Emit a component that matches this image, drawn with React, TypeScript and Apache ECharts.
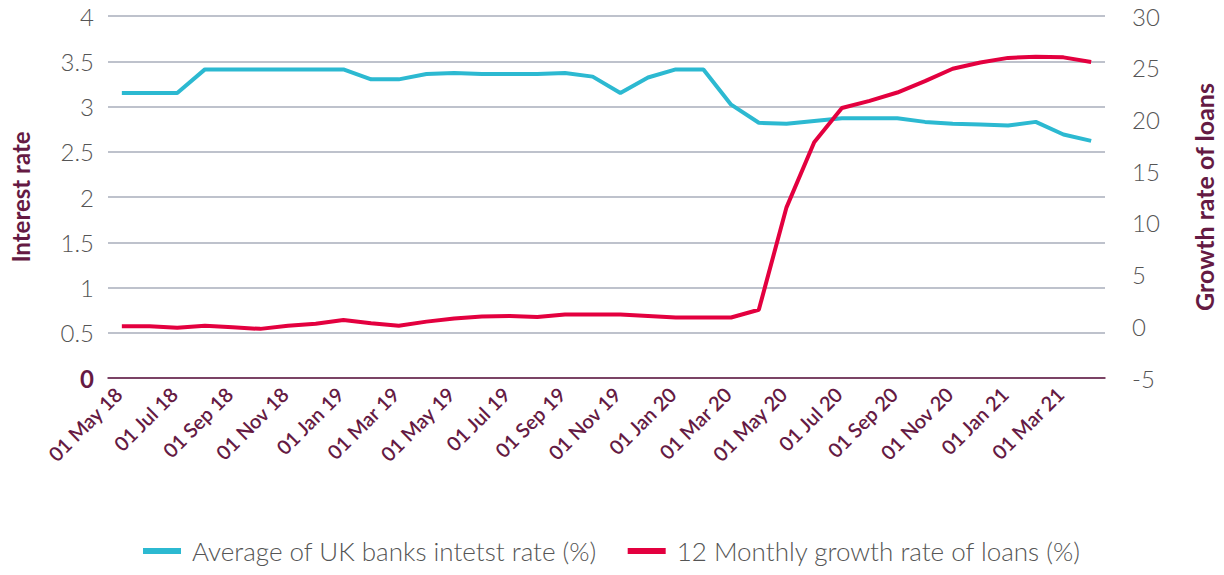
import React, { useEffect, useRef } from "react";
import * as echarts from "echarts";

const categories: string[] = [
  "01 May 18", "01 Jun 18", "01 Jul 18", "01 Aug 18", "01 Sep 18", "01 Oct 18",
  "01 Nov 18", "01 Dec 18", "01 Jan 19", "01 Feb 19", "01 Mar 19", "01 Apr 19",
  "01 May 19", "01 Jun 19", "01 Jul 19", "01 Aug 19", "01 Sep 19", "01 Oct 19",
  "01 Nov 19", "01 Dec 19", "01 Jan 20", "01 Feb 20", "01 Mar 20", "01 Apr 20",
  "01 May 20", "01 Jun 20", "01 Jul 20", "01 Aug 20", "01 Sep 20", "01 Oct 20",
  "01 Nov 20", "01 Dec 20", "01 Jan 21", "01 Feb 21", "01 Mar 21", "01 Apr 21",
];

const interestRate: number[] = [
  3.15, 3.15, 3.15, 3.41, 3.41, 3.41, 3.41, 3.41, 3.41, 3.30, 3.30, 3.36,
  3.37, 3.36, 3.36, 3.36, 3.37, 3.33, 3.15, 3.32, 3.41, 3.41, 3.02, 2.82,
  2.81, 2.84, 2.87, 2.87, 2.87, 2.83, 2.81, 2.80, 2.79, 2.83, 2.69, 2.62,
];

const loanGrowth: number[] = [
  0.0, 0.0, -0.15, 0.05, -0.1, -0.25, 0.05, 0.25, 0.6, 0.3, 0.05, 0.45,
  0.75, 0.95, 1.0, 0.9, 1.15, 1.15, 1.15, 1.0, 0.85, 0.85, 0.85, 1.6,
  11.5, 17.8, 21.1, 21.8, 22.6, 23.7, 24.9, 25.5, 25.95, 26.05, 26.0, 25.55,
];

const seriesNames: string[] = [
  "Average of UK banks intetst rate (%)",
  "12 Monthly growth rate of loans (%)",
];

const FONT = "Lato, 'Open Sans', sans-serif";
const MAROON = "#651a43";

export default function App() {
  const ref = useRef<HTMLDivElement>(null);

  useEffect(() => {
    if (!ref.current) return;
    const chart = echarts.init(ref.current, undefined, { renderer: "svg" });
    chart.setOption({
      animation: false,
      textStyle: { fontFamily: FONT },
      grid: { left: 102, right: 111, top: 16, bottom: 197, containLabel: false },
      legend: {
        top: 533,
        left: "center",
        icon: "rect",
        itemWidth: 38,
        itemHeight: 6,
        itemGap: 31,
        textStyle: {
          fontSize: 26,
          color: "#555",
          fontWeight: 300,
          fontFamily: FONT,
          padding: [0, 0, 0, 6],
        },
        data: seriesNames,
      },
      xAxis: {
        type: "category",
        data: categories,
        boundaryGap: true,
        axisLine: { show: true, lineStyle: { color: MAROON, width: 1.5 } },
        axisTick: { show: false },
        axisLabel: {
          interval: 1,
          rotate: 45,
          margin: 9,
          padding: [0, 5, 0, 0],
          color: MAROON,
          fontSize: 20,
          fontWeight: 600,
          fontFamily: FONT,
        },
      },
      yAxis: [
        {
          type: "value",
          min: 0,
          max: 4,
          interval: 0.5,
          name: "Interest rate",
          nameLocation: "middle",
          nameRotate: 90,
          nameGap: 76,
          nameTextStyle: { color: MAROON, fontSize: 24, fontWeight: 700, fontFamily: FONT },
          axisLine: { show: false },
          axisTick: { show: false },
          splitLine: { show: true, lineStyle: { color: "#a9aebb", width: 1.5 } },
          axisLabel: {
            color: "#555",
            fontSize: 24,
            margin: 14,
            fontWeight: 300,
            formatter: (v: number) => (v === 0 ? "{z|0}" : String(v)),
            rich: {
              z: { color: MAROON, fontWeight: 700, fontSize: 24, fontFamily: FONT },
            },
          },
        },
        {
          type: "value",
          min: -5,
          max: 30,
          interval: 5,
          position: "right",
          name: "Growth rate of loans",
          nameLocation: "middle",
          nameRotate: 90,
          nameGap: 86,
          nameTextStyle: { color: MAROON, fontSize: 25, fontWeight: 700, fontFamily: FONT },
          axisLine: { show: false },
          axisTick: { show: false },
          splitLine: { show: false },
          axisLabel: { color: "#555", fontSize: 24, margin: 27, fontWeight: 300 },
        },
      ],
      series: [
        {
          name: seriesNames[0],
          type: "line",
          yAxisIndex: 0,
          data: interestRate,
          symbol: "none",
          itemStyle: { color: "#2cb9d1" },
          lineStyle: { color: "#2cb9d1", width: 4 },
        },
        {
          name: seriesNames[1],
          type: "line",
          yAxisIndex: 1,
          data: loanGrowth,
          symbol: "none",
          itemStyle: { color: "#e3003f" },
          lineStyle: { color: "#e3003f", width: 4 },
        },
      ],
    });
    return () => chart.dispose();
  }, []);

  return <div ref={ref} style={{ width: 1224, height: 575, margin: -8 }} />;
}
